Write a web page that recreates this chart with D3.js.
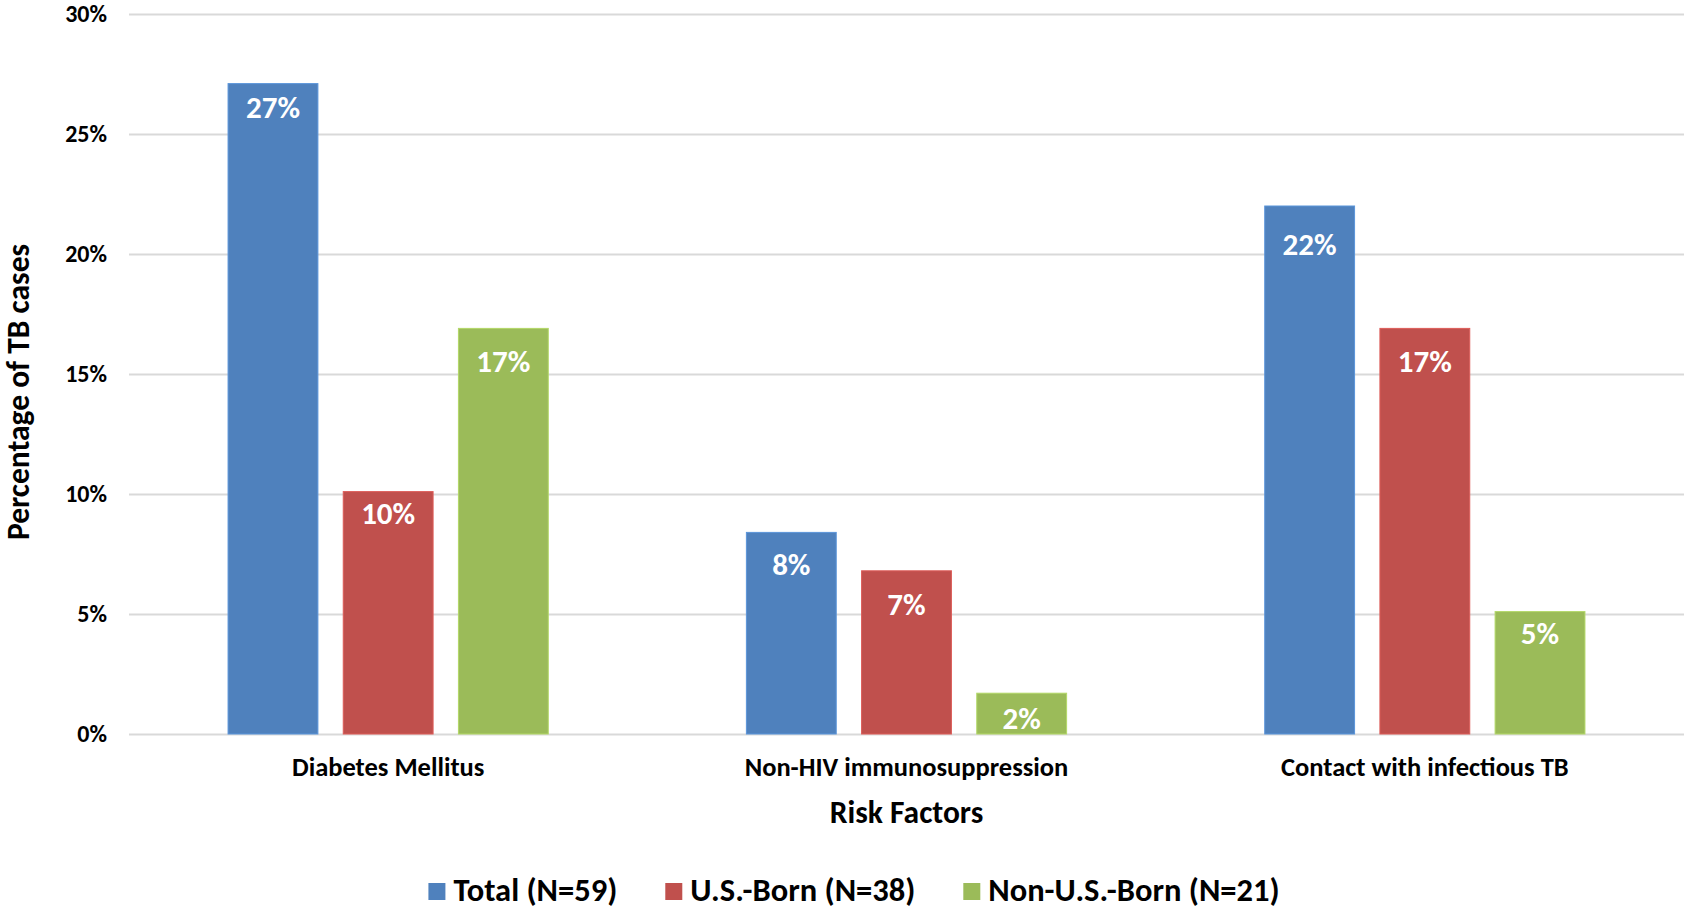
<!DOCTYPE html>
<html>
<head>
<meta charset="utf-8">
<script src="https://cdn.jsdelivr.net/npm/d3@7"></script>
<style>
    body { margin: 0; background: #fff; }
    text { font-family: Carlito, Calibri, Lato, sans-serif; font-weight: bold; }
</style>
</head>
<body>
<div id="chart"></div>
<script>
'use strict';

// chart values
var categories = ['Diabetes Mellitus', 'Non-HIV immunosuppression', 'Contact with infectious TB'];
var seriesNames = ['Total (N=59)', 'U.S.-Born (N=38)', 'Non-U.S.-Born (N=21)'];
var totalVals = [27.1, 8.4, 22.0];
var usBornVals = [10.1, 6.8, 16.9];
var nonUsBornVals = [16.9, 1.7, 5.1];
var yTicks = [0, 5, 10, 15, 20, 25, 30];
var colors = ['#4F81BD', '#C0504D', '#9BBB59'];

var width = 1684, height = 909;
var margin = {top: 14, right: 0, bottom: 175, left: 129};

var svg = d3.select('#chart').append('svg')
    .attr('width', width)
    .attr('height', height);

var x0 = d3.scaleBand()
    .domain(categories)
    .range([margin.left, width - margin.right]);

var x1 = d3.scaleBand()
    .domain(seriesNames)
    .range([0, x0.bandwidth()])
    .paddingInner(0.22)
    .paddingOuter(0.86);

var y = d3.scaleLinear()
    .domain([0, 30])
    .range([height - margin.bottom, margin.top]);

var color = d3.scaleOrdinal().domain(seriesNames).range(colors);

// gridlines + tick labels
var yAxis = d3.axisLeft(y)
    .tickValues(yTicks)
    .tickSize(-(width - margin.left - margin.right))
    .tickPadding(22)
    .tickFormat(function (d) { return d + '%'; });

svg.append('g')
    .attr('transform', 'translate(' + margin.left + ',0)')
    .call(yAxis)
    .call(function (g) { g.select('.domain').remove(); })
    .call(function (g) {
        g.selectAll('.tick line').attr('stroke', '#D9D9D9').attr('stroke-width', 2);
        g.selectAll('.tick text')
            .attr('fill', '#000')
            .style('font-size', '24px')
            .style('font-family', 'Carlito, Calibri, Lato, sans-serif')
            .style('font-weight', 'bold');
    });

var rows = categories.map(function (c, i) {
    return {cat: c, idx: i, vals: [totalVals[i], usBornVals[i], nonUsBornVals[i]]};
});

// the value labels sit a little lower or higher inside each bar in the original
var labelDy = [[34, 32, 44], [43, 44, 36], [49, 44, 32]];

var group = svg.selectAll('.grp')
    .data(rows)
    .enter().append('g')
    .attr('class', 'grp')
    .attr('transform', function (d) { return 'translate(' + x0(d.cat) + ',0)'; });

var bar = group.selectAll('.bar')
    .data(function (d) {
        return d.vals.map(function (v, j) {
            return {name: seriesNames[j], value: v, dy: labelDy[d.idx][j]};
        });
    })
    .enter().append('g')
    .attr('class', 'bar');

bar.append('rect')
    .attr('x', function (d) { return x1(d.name); })
    .attr('y', function (d) { return y(d.value); })
    .attr('width', x1.bandwidth())
    .attr('height', function (d) { return y(0) - y(d.value); })
    .attr('fill', function (d) { return color(d.name); })
    .attr('stroke', function (d) { return d3.color(color(d.name)).brighter(0.4); })
    .attr('stroke-width', 1);

bar.append('text')
    .attr('x', function (d) { return x1(d.name) + x1.bandwidth() / 2; })
    .attr('y', function (d) { return y(d.value) + d.dy; })
    .attr('text-anchor', 'middle')
    .attr('fill', '#fff')
    .style('font-size', '31px')
    .text(function (d) { return Math.round(d.value) + '%'; });

// category labels
svg.append('g').selectAll('text')
    .data(categories)
    .enter().append('text')
    .attr('x', function (d) { return x0(d) + x0.bandwidth() / 2; })
    .attr('y', 776)
    .attr('text-anchor', 'middle')
    .style('font-size', '26.5px')
    .text(function (d) { return d; });

// axis titles
svg.append('text')
    .attr('x', x0(categories[1]) + x0.bandwidth() / 2)
    .attr('y', 823)
    .attr('text-anchor', 'middle')
    .style('font-size', '31.5px')
    .text('Risk Factors');

svg.append('text')
    .attr('transform', 'translate(29,392) rotate(-90)')
    .attr('text-anchor', 'middle')
    .style('font-size', '31.5px')
    .text('Percentage of TB cases');

// legend
var legend = svg.append('g').attr('class', 'legend');
var lx = 0;
seriesNames.forEach(function (name, i) {
    var item = legend.append('g').attr('transform', 'translate(' + lx + ',0)');
    item.append('rect')
        .attr('x', 0).attr('y', -18)
        .attr('width', 17).attr('height', 17)
        .attr('fill', colors[i]);
    var t = item.append('text')
        .attr('x', 25).attr('y', 0)
        .style('font-size', '32.5px')
        .text(name);
    lx += 25 + t.node().getComputedTextLength() + 48;
});
var legendW = lx - 48;
legend.attr('transform', 'translate(' + ((width - legendW) / 2 + 12) + ',901)');
</script>
</body>
</html>
